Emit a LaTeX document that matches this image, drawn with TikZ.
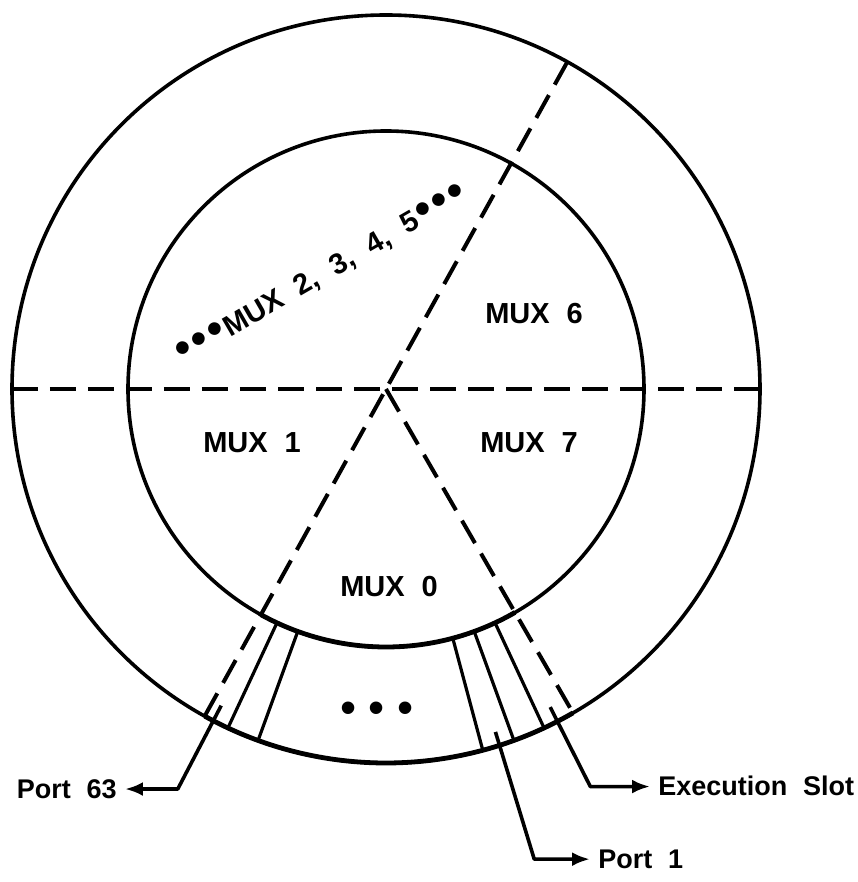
\documentclass[tikz,border=0pt]{standalone}
\usepackage{fontspec}
\setmainfont{Liberation Sans}[WordSpace=2.1]
\newfontfamily\dotsfont{Liberation Sans}
\usetikzlibrary{arrows.meta}
\newcommand\bigdots{{\dotsfont\fontsize{22}{22}\selectfont\kern1pt•\kern1.5pt•\kern1.5pt•\kern1pt}}

\begin{document}
\begin{tikzpicture}[x=0.5pt, y=0.5pt,
    ring/.style={line width=1.8pt},
    slotline/.style={line width=1.6pt},
    divider/.style={line width=2pt, dash pattern=on 13pt off 6pt},
    leader/.style={line width=1.8pt, line join=round, -{Latex[length=9pt,width=7pt]}},
    mux/.style={font=\fontsize{14.5}{17}\selectfont\bfseries},
    port/.style={font=\fontsize{13.5}{16}\selectfont\bfseries, inner sep=4pt}]
    \useasboundingbox (-386,-493) rectangle (471,389);
    \draw[ring] (0,0) circle (374);
    \draw[ring] (0,0) circle (258);
    \draw[ring, line width=2.4pt] (241:374) arc (241:300:374);
    \draw[ring, line width=2.4pt] (241:258) arc (241:300:258);
    \draw[divider] (180:374) -- (0:374);
    \draw[divider] (241:374) -- (61:374);
    \draw[divider] (0,0) -- (300:374);
    \foreach \a in {245,250,285,290,295}
        \draw[slotline] (\a:258) -- (\a:374);
    \node[mux] (mux6) at (148,75) {MUX 6};
    \node[mux] (mux1) at (-134,-54) {MUX 1};
    \node[mux] (mux7) at (143,-54) {MUX 7};
    \node[mux] (mux0) at (3,-198) {MUX 0};
    \node[mux, rotate=30] (mux25) at (-64,114) {\bigdots MUX 2, 3, 4, 5\bigdots};
    \node[font=\dotsfont\fontsize{23}{23}\selectfont] (more) at (-9,-324) {• • •};
    \coordinate (p63s) at (242.5:357);
    \coordinate (p63c) at (242.5:451);
    \coordinate (p1s) at (287.7:360);
    \coordinate (p1c) at (287.5:493);
    \coordinate (exs) at (297.3:358);
    \coordinate (exc) at (297.2:447);
    \node[port, anchor=east] (port63) at (-261,-400) {Port 63};
    \node[port, anchor=west] (port1) at (204,-470) {Port 1};
    \node[port, anchor=west] (exslot) at (264,-397) {Execution Slot};
    \draw[leader] (p63s) -- (p63c) -- (p63c -| port63.east);
    \draw[leader] (p1s) -- (p1c) -- (p1c -| port1.west);
    \draw[leader] (exs) -- (exc) -- (exc -| exslot.west);
\end{tikzpicture}
\end{document}
